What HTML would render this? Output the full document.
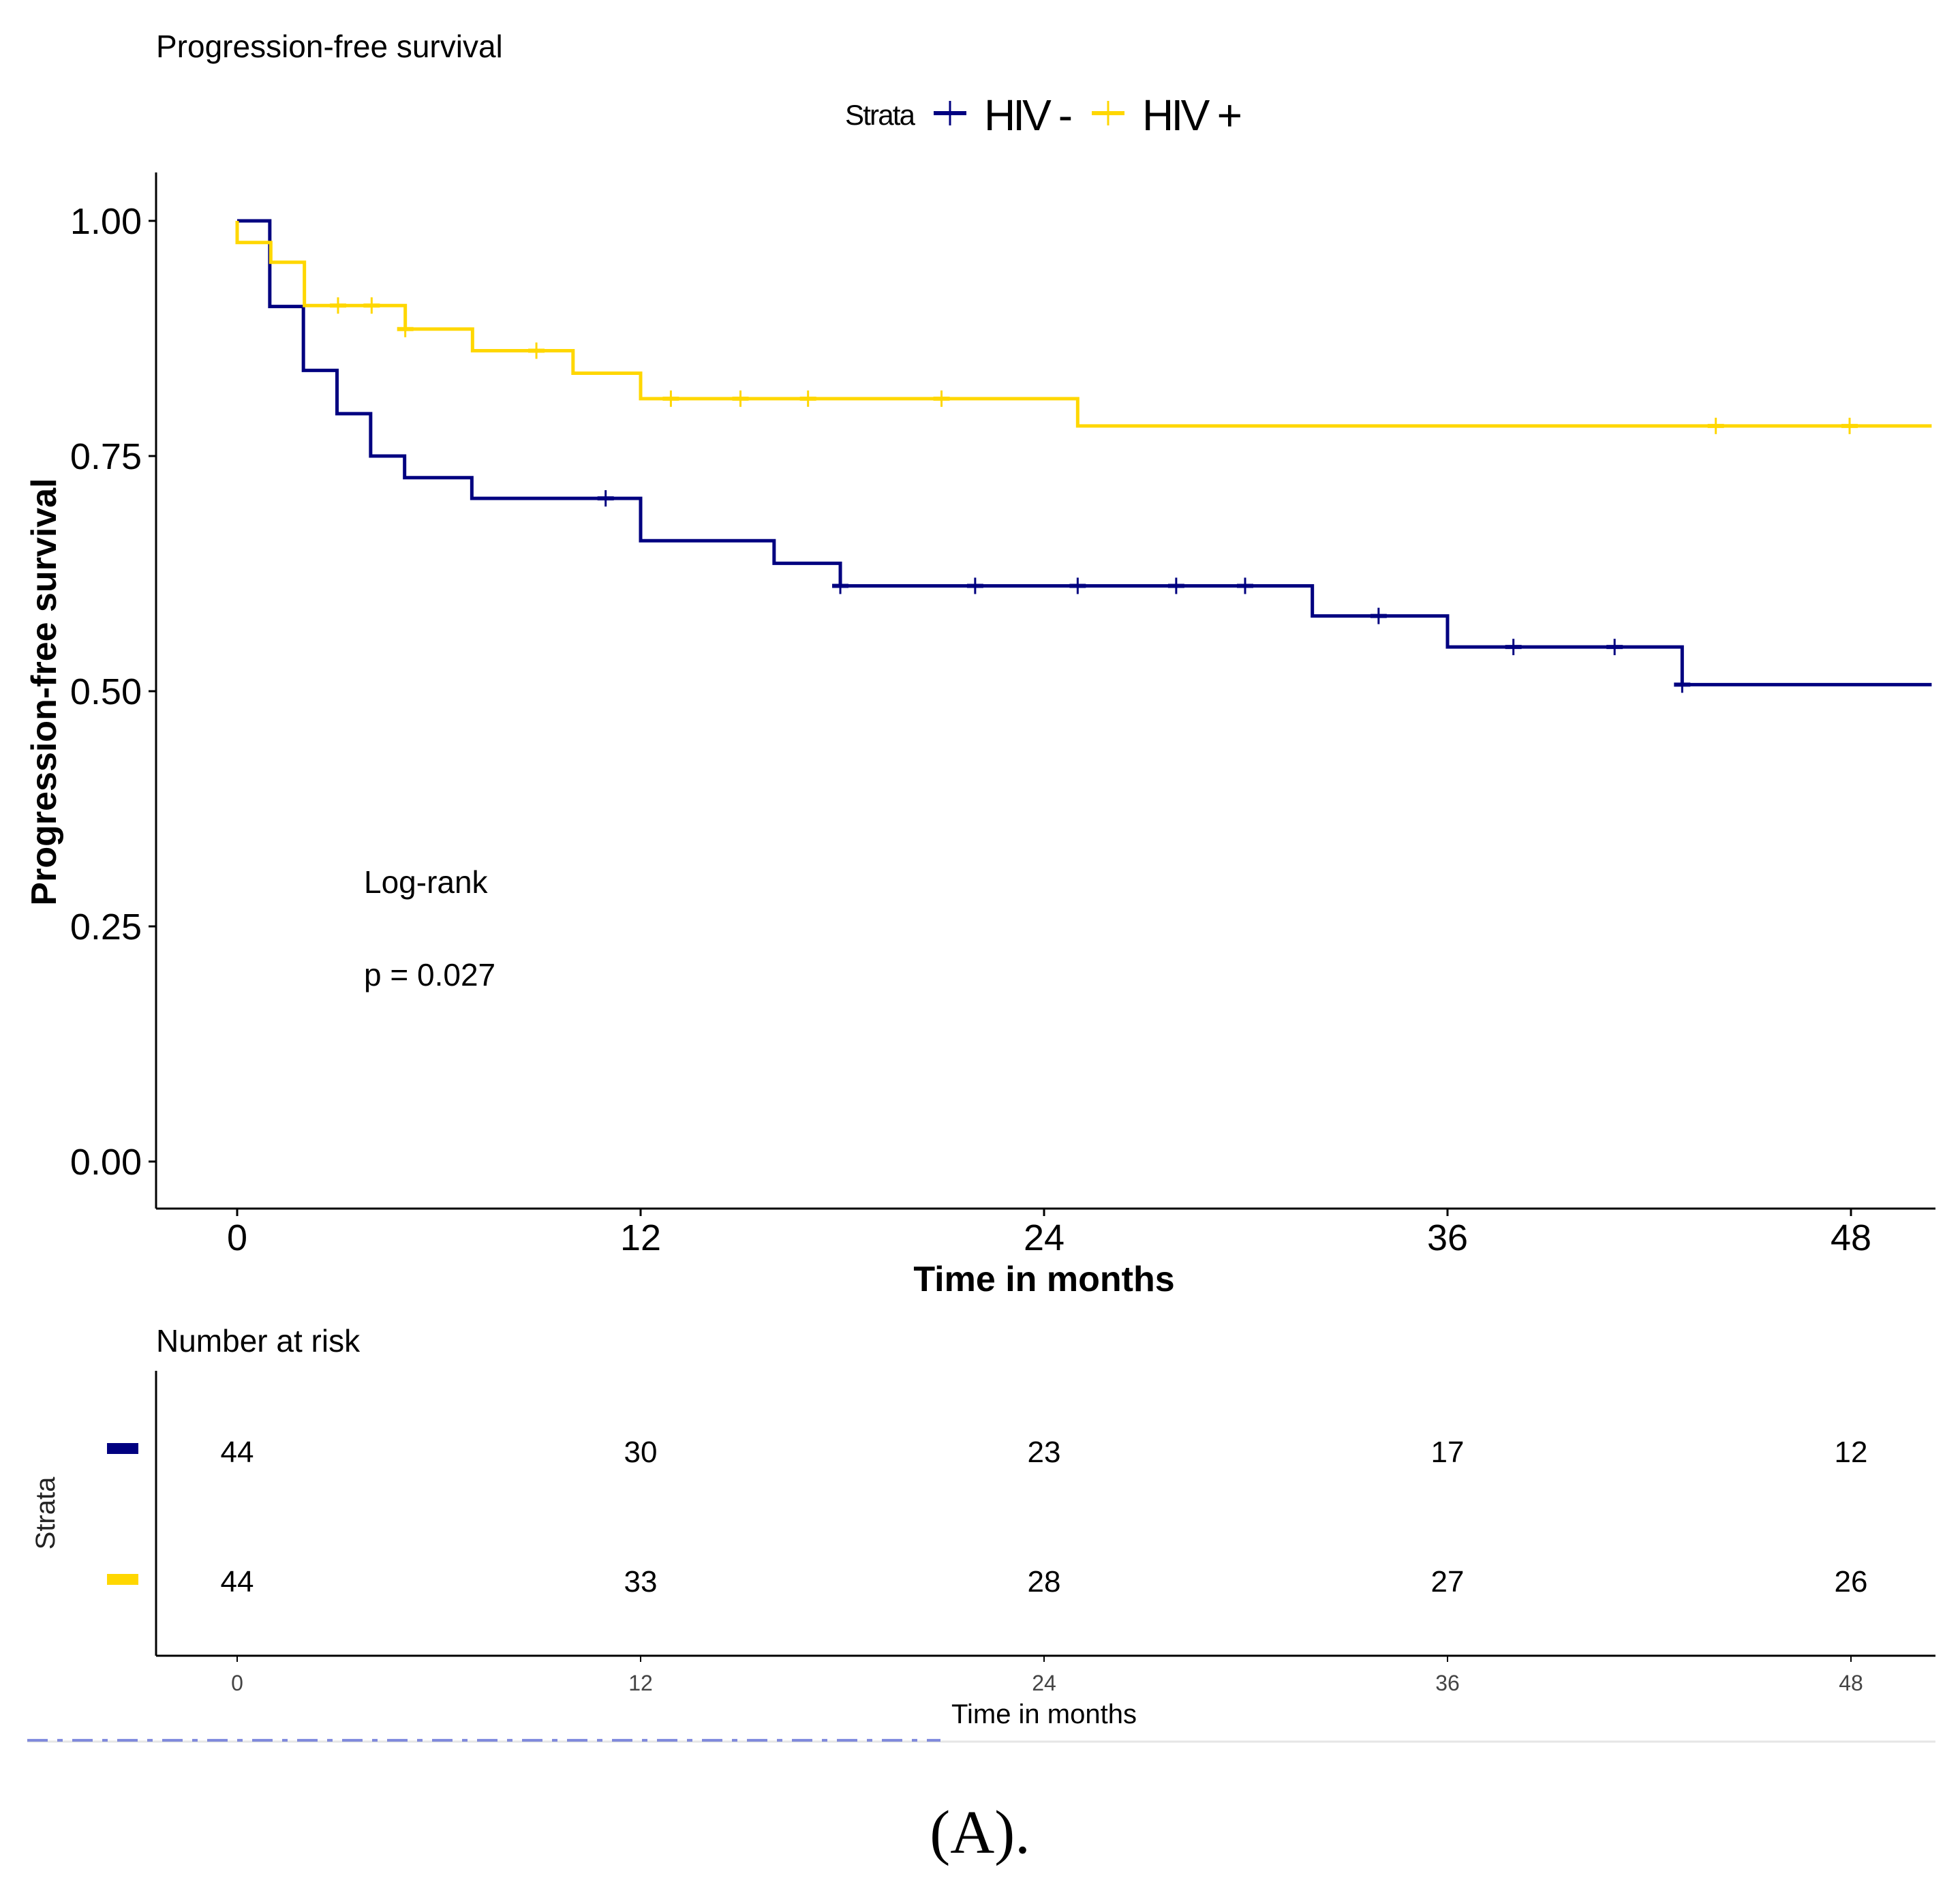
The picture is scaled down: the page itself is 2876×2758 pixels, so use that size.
<!DOCTYPE html>
<html><head><meta charset="utf-8"><style>
html,body{margin:0;padding:0;background:#fff;}
svg{display:block;font-family:"Liberation Sans",Arial,sans-serif;}
</style></head><body>
<svg id="chart" width="2876" height="2758" viewBox="0 0 2876 2758" xmlns="http://www.w3.org/2000/svg">
<text x="229" y="84" font-size="46" fill="#000">Progression-free survival</text>
<g>
<text x="1240" y="183" font-size="42" fill="#000" textLength="103">Strata</text>
<g>
<line x1="1370" y1="166" x2="1418" y2="166" stroke="#000080" stroke-width="6"/><line x1="1394" y1="148" x2="1394" y2="184" stroke="#000080" stroke-width="3"/>
<text x="1444" y="191" font-size="64" fill="#000" textLength="130">HIV -</text></g>
<g>
<line x1="1602" y1="166" x2="1650" y2="166" stroke="#FFD700" stroke-width="6"/><line x1="1626" y1="148" x2="1626" y2="184" stroke="#FFD700" stroke-width="3"/>
<text x="1676" y="191" font-size="64" fill="#000" textLength="147">HIV +</text></g>
</g>
<g id="axes"></g>
<g id="series"></g>
<text x="0" y="0" transform="translate(82,1015) rotate(-90)" text-anchor="middle" font-size="52" font-weight="bold" fill="#000">Progression-free survival</text>
<text x="1532" y="1894" text-anchor="middle" font-size="52" font-weight="bold" fill="#000">Time in months</text>
<text x="534" y="1310" font-size="46" fill="#000">Log-rank</text>
<text x="534" y="1446" font-size="46" fill="#000">p = 0.027</text>
<text x="229" y="1983" font-size="46" fill="#000">Number at risk</text>
<g id="risk"></g>
<text x="0" y="0" transform="translate(80,2220) rotate(-90)" text-anchor="middle" font-size="40" fill="#222">Strata</text>
<rect x="157" y="2117" width="46" height="16" fill="#000080"/>
<rect x="157" y="2309" width="46" height="16" fill="#FFD700"/>
<text x="1532" y="2528" text-anchor="middle" font-size="40" fill="#000">Time in months</text>
<line x1="40" y1="2555" x2="2840" y2="2555" stroke="#e6e6e6" stroke-width="3"/>
<line x1="40" y1="2553" x2="1380" y2="2553" stroke="#3344cc" stroke-width="4" stroke-dasharray="30 14 8 14" opacity="0.6"/>
<text x="1438" y="2718" text-anchor="middle" font-family="Liberation Serif,serif" font-size="90" fill="#000">(A).</text>
</svg>
<script>
const xTicks=[0,12,24,36,48];
const yTicks=[0,0.25,0.5,0.75,1];
const yTickLabels=["0.00","0.25","0.50","0.75","1.00"];
const negTimes=[0,0.97,1.97,2.97,3.97,4.98,6.98,12,15.97,17.94,31.98,36,42.98];
const negSurv=[1,0.909,0.841,0.795,0.75,0.727,0.705,0.66,0.636,0.612,0.58,0.547,0.507];
const negCens=[10.96,17.94,21.95,25,27.93,29.98,33.95,37.96,40.97,42.98];
const posTimes=[0,0,1,2,5,7,9.99,12,25];
const posSurv=[1,0.977,0.956,0.91,0.885,0.862,0.838,0.811,0.782];
const posCens=[3,4,5,8.9,12.9,14.97,16.98,20.95,43.98,47.96];
const riskNeg=[44,30,23,17,12];
const riskPos=[44,33,28,27,26];
const tEnd=50.4;
const NS="http://www.w3.org/2000/svg";
const X=t=>348+t*592/12;
const Y=s=>1704-s*1380;
function mk(tag,attrs,parent){const e=document.createElementNS(NS,tag);for(const k in attrs)e.setAttribute(k,attrs[k]);parent.appendChild(e);return e;}
const axes=document.getElementById('axes'),series=document.getElementById('series'),risk=document.getElementById('risk');
let a=mk('line',{x1:229,y1:253,x2:229,y2:1773,stroke:'#000','stroke-width':3},axes);


a=mk('line',{x1:229,y1:1773,x2:2840,y2:1773,stroke:'#000','stroke-width':3},axes);


yTicks.forEach((v,i)=>{
 mk('line',{x1:218,y1:Y(v),x2:229,y2:Y(v),stroke:'#000','stroke-width':3},axes);
 const t=mk('text',{x:208,y:Y(v)+19,'text-anchor':'end','font-size':54,fill:'#000'},axes);t.textContent=yTickLabels[i];
 
 
});
xTicks.forEach(v=>{
 mk('line',{x1:X(v),y1:1773,x2:X(v),y2:1784,stroke:'#000','stroke-width':3},axes);
 const t=mk('text',{x:X(v),y:1834,'text-anchor':'middle','font-size':54,fill:'#000'},axes);t.textContent=v;
 
 
});
function curve(times,surv,cens,color,name){
 let d='M'+X(times[0])+','+Y(surv[0]);
 for(let i=1;i<times.length;i++){d+=' H'+X(times[i])+' V'+Y(surv[i]);}
 d+=' H'+X(tEnd);
 const p=mk('path',{d:d,fill:'none',stroke:color,'stroke-width':5},series);
 
 
 cens.forEach(c=>{let s=surv[0];for(let i=0;i<times.length;i++)if(times[i]<=c)s=surv[i];
  const g=mk('g',{},series);
  
  
  mk('line',{x1:X(c)-12,y1:Y(s),x2:X(c)+12,y2:Y(s),stroke:color,'stroke-width':6},g);
  mk('line',{x1:X(c),y1:Y(s)-12,x2:X(c),y2:Y(s)+12,stroke:color,'stroke-width':3},g);
 });
}
curve(negTimes,negSurv,negCens,'#000080','hiv-neg');
curve(posTimes,posSurv,posCens,'#FFD700','hiv-pos');
a=mk('line',{x1:229,y1:2011,x2:229,y2:2429,stroke:'#000','stroke-width':3},risk);


a=mk('line',{x1:229,y1:2429,x2:2840,y2:2429,stroke:'#000','stroke-width':3},risk);


xTicks.forEach((v,i)=>{
 mk('line',{x1:X(v),y1:2429,x2:X(v),y2:2438,stroke:'#000','stroke-width':2},risk);
 let t=mk('text',{x:X(v),y:2480,'text-anchor':'middle','font-size':32,fill:'#444'},risk);t.textContent=v;
 
 
 t=mk('text',{x:X(v),y:2145,'text-anchor':'middle','font-size':44,fill:'#000'},risk);t.textContent=riskNeg[i];
 
 
 t=mk('text',{x:X(v),y:2335,'text-anchor':'middle','font-size':44,fill:'#000'},risk);t.textContent=riskPos[i];
 
 
});
</script>
</body></html>
